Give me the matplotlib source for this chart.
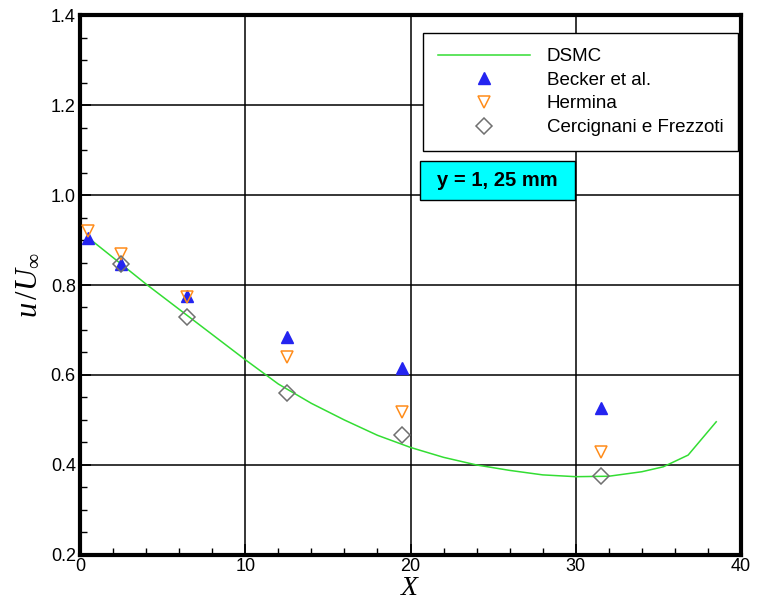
import numpy as np
import matplotlib
matplotlib.use("Agg")
import matplotlib.pyplot as plt
from matplotlib.ticker import MultipleLocator
from matplotlib.patches import Rectangle

plt.rcParams.update({
    "font.family": "Liberation Sans",
    "mathtext.fontset": "custom",
    "mathtext.it": "Liberation Serif:italic",
    "mathtext.rm": "Liberation Serif",
})

# DSMC curve
dsmc_x = [0.5, 2, 4, 6, 8, 10, 12, 14, 16, 18, 20, 22, 24, 26, 28, 30, 32, 34, 35.3, 36.8, 38.5]
dsmc_y = [0.905, 0.861, 0.802, 0.746, 0.690, 0.634, 0.580, 0.537, 0.500, 0.466, 0.439,
          0.417, 0.400, 0.388, 0.378, 0.374, 0.375, 0.385, 0.396, 0.422, 0.496]

# Experimental / reference data
becker_x = [0.5, 2.5, 6.5, 12.5, 19.5, 31.5]
becker_y = [0.904, 0.847, 0.775, 0.684, 0.615, 0.527]

hermina_x = [0.5, 2.5, 6.5, 12.5, 19.5, 31.5]
hermina_y = [0.920, 0.869, 0.773, 0.640, 0.518, 0.429]

cerc_x = [2.5, 6.5, 12.5, 19.5, 31.5]
cerc_y = [0.847, 0.729, 0.560, 0.467, 0.376]

fig = plt.figure(figsize=(7.59, 6.06), dpi=100)
ax = fig.add_axes([0.1054, 0.0842, 0.8709, 0.8910])

ax.plot(dsmc_x, dsmc_y, color="#33dd33", lw=1.1, label="DSMC", zorder=3)
ax.plot(becker_x, becker_y, ls="none", marker="^", ms=8, color="#2424f0",
        mec="#2424f0", label="Becker et al.", zorder=4)
ax.plot(hermina_x, hermina_y, ls="none", marker="v", ms=9, mfc="none",
        mec="#ff8c1a", mew=1.1, label="Hermina", zorder=4)
ax.plot(cerc_x, cerc_y, ls="none", marker="D", ms=8, mfc="none",
        mec="#707070", mew=1.1, label="Cercignani e Frezzoti", zorder=4)

ax.set_xlim(0, 40)
ax.set_ylim(0.2, 1.4)
ax.xaxis.set_major_locator(MultipleLocator(10))
ax.xaxis.set_minor_locator(MultipleLocator(2))
ax.yaxis.set_major_locator(MultipleLocator(0.2))
ax.yaxis.set_minor_locator(MultipleLocator(0.05))
ax.tick_params(which="both", direction="in", labelsize=13, pad=3)
ax.tick_params(axis="x", which="both", pad=2)
ax.tick_params(which="major", length=8, width=1.2)
ax.tick_params(which="minor", length=5, width=1)
ax.grid(which="major", color="black", lw=1.1)
for s in ax.spines.values():
    s.set_linewidth(3)

ax.set_xlabel("$X$", fontsize=20, labelpad=0)
ax.set_ylabel(r"$u\,/U_\infty$", fontsize=22, labelpad=6)

leg = ax.legend(loc="upper right", bbox_to_anchor=(1.0, 0.972), fontsize=13.5,
                handlelength=4.9, handletextpad=0.9, labelspacing=0.35,
                borderpad=0.8, borderaxespad=0.15,
                frameon=True, fancybox=False, edgecolor="black", framealpha=1)
leg.get_frame().set_linewidth(1)

# annotation box
ax.add_patch(Rectangle((0.514, 0.657), 0.235, 0.073, transform=ax.transAxes,
                       facecolor="#00ffff", edgecolor="black", lw=1, zorder=5))
ax.text(0.6315, 0.6935, "y = 1, 25 mm", transform=ax.transAxes, fontsize=14.5,
        fontweight="bold", ha="center", va="center", zorder=6)

fig.savefig("out.png", dpi=100)
